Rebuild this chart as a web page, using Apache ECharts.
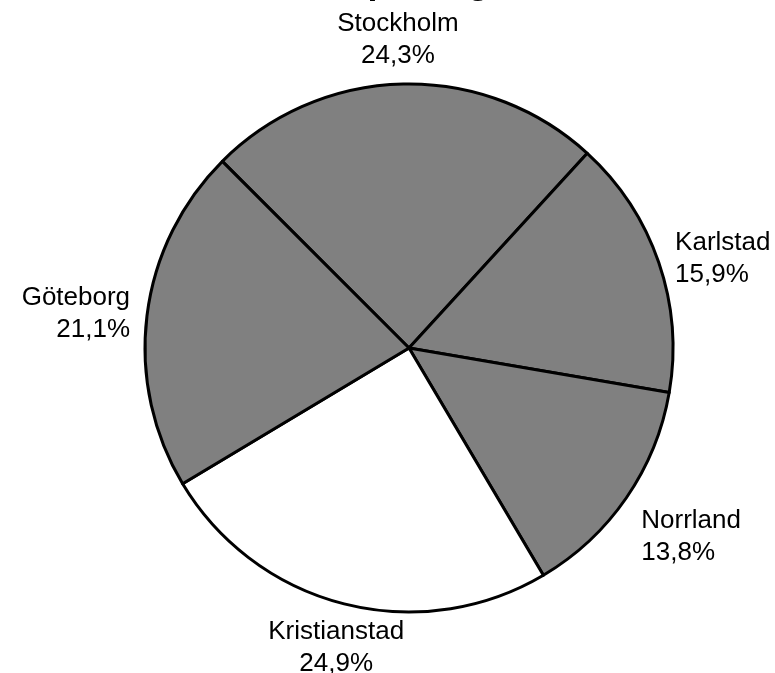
<!DOCTYPE html>
<html>
<head>
<meta charset="utf-8">
<script src="https://cdn.jsdelivr.net/npm/echarts@6/dist/echarts.min.js"></script>
<style>
  html, body { margin: 0; padding: 0; background: #ffffff; }
  #chart { width: 775px; height: 673px; }
</style>
</head>
<body>
<div id="chart"></div>
<script>
// Data
var titleText = 'Kunder per region';
var categories = ['Stockholm', 'Karlstad', 'Norrland', 'Kristianstad', 'Göteborg'];
var shares = [24.3, 15.9, 13.8, 24.9, 21.1];
var sliceColors = ['#808080', '#808080', '#808080', '#ffffff', '#808080'];

// label alignment per slice (styling)
var labelAlign = ['center', 'left', 'left', 'center', 'right'];
var labelVAlign = ['bottom', 'middle', 'top', 'top', 'middle'];

var chart = echarts.init(document.getElementById('chart'), null, { renderer: 'canvas' });

var seriesData = categories.map(function (name, i) {
  return { name: name, value: shares[i], itemStyle: { color: sliceColors[i] } };
});

chart.setOption({
  backgroundColor: '#ffffff',
  animation: false,
  title: {
    text: titleText,
    left: 'center',
    top: -40,
    textStyle: {
      fontFamily: 'Liberation Sans, Arial, sans-serif',
      fontWeight: 'bold',
      fontSize: 36,
      color: '#000000'
    }
  },
  series: [{
    type: 'pie',
    center: [409, 348],
    radius: [0, 264],
    startAngle: 135,
    clockwise: true,
    avoidLabelOverlap: false,
    data: seriesData,
    itemStyle: { borderColor: '#000000', borderWidth: 3 },
    emphasis: { disabled: true },
    label: {
      show: true,
      position: 'outside',
      color: '#000000',
      fontFamily: 'Liberation Sans, Arial, sans-serif',
      fontSize: 26,
      lineHeight: 32,
      formatter: function (p) {
        return p.name + '\n' + p.value.toFixed(1).replace('.', ',') + '%';
      }
    },
    labelLine: { show: false, length: 12, length2: 0 },
    labelLayout: function (params) {
      var i = params.dataIndex;
      return { align: labelAlign[i], verticalAlign: labelVAlign[i] };
    }
  }]
});
</script>
</body>
</html>
